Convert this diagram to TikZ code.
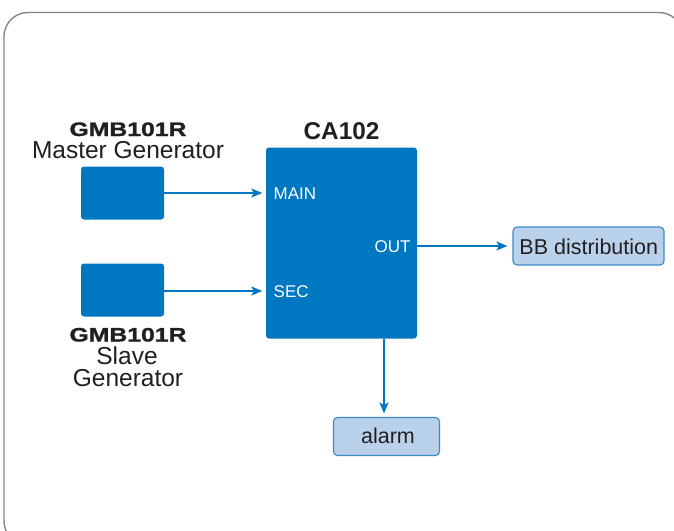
\documentclass[tikz,border=0pt]{standalone}
\usepackage{fontspec}
\setmainfont{Liberation Sans}
\newfontfamily\blackfont[FakeBold=1.2]{Liberation Sans Bold}
\usetikzlibrary{arrows.meta,calc}
\definecolor{cablue}{HTML}{0077C1}
\definecolor{lightfill}{HTML}{B9D1EA}
\definecolor{lightedge}{HTML}{3B8AC9}
\definecolor{txt}{HTML}{231F20}
\definecolor{framegray}{HTML}{858585}
\tikzset{
  genbox/.style={rectangle, rounded corners=3pt, fill=cablue, draw=none, minimum width=83pt, minimum height=53pt, inner sep=0pt},
  mainbox/.style={rectangle, rounded corners=3pt, fill=cablue, draw=none, minimum width=151pt, minimum height=191pt, inner sep=0pt},
  outbox/.style={rectangle, rounded corners=4pt, fill=lightfill, draw=lightedge, line width=1.1pt, inner sep=0pt, text=txt, font=\fontsize{21.5}{24}\selectfont},
  arr/.style={draw=cablue, line width=1.3pt, -{Stealth[length=11pt,width=9pt,inset=2.5pt]}},
  port/.style={text=white, font=\fontsize{17}{20}\selectfont, inner sep=0pt, anchor=base west},
  title/.style={text=txt, inner sep=0pt, anchor=base},
  heavy/.style={title, font=\blackfont\fontsize{19.5}{24}\selectfont},
  plain/.style={title, font=\fontsize{24.5}{28}\selectfont}
}
\begin{document}
\begin{tikzpicture}[x=1pt,y=-1pt]
\useasboundingbox (0,0) rectangle (674,530);
\draw[framegray, line width=1.4pt, rounded corners=24pt] (4,12.5) rectangle (683,545);

\node[genbox] (master) at (122.5,193) {};
\node[genbox] (slave) at (122.5,290) {};
\node[mainbox] (ca) at (341.5,243) {};
\node[outbox, minimum width=151pt, minimum height=38pt] (bb) at (588.5,246) {};
\node[outbox, minimum width=106pt, minimum height=38pt] (alarm) at (386.5,436.5) {};

\node[title, text=txt, font=\fontsize{21.5}{24}\selectfont] (bbt) at (588.8,254.3) {BB distribution};
\node[title, text=txt, font=\fontsize{21.5}{24}\selectfont] (alarmt) at (388,443) {alarm};

\node[heavy] (g1) at (128,136) {\scalebox{1.27}[1]{GMB101R}};
\node[plain] (m1) at (128,158.3) {Master Generator};
\node[title, font=\bfseries\fontsize{24.3}{28}\selectfont] (cat) at (341.5,139) {CA102};
\node[heavy] (g2) at (128,341.5) {\scalebox{1.27}[1]{GMB101R}};
\node[plain] (s2) at (127,364) {Slave};
\node[plain] (s3) at (128,386.5) {Generator};

\node[port] (mainl) at (273.5,199.5) {MAIN};
\node[port] (secl) at (273.5,297.8) {SEC};
\node[port, anchor=base east] (outl) at (410.7,252.3) {OUT};

\coordinate (ax) at (384,0);
\draw[arr, shorten >=3.5pt] (master.east) -- (ca.west |- master.east);
\draw[arr, shorten >=3.5pt] (slave.east |- 0,291) -- (ca.west |- 0,291);
\draw[arr, shorten >=5pt] (ca.east |- bb.west) -- (bb.west);
\draw[arr, shorten >=3.5pt] (ca.south -| ax) -- (alarm.north -| ax);
\end{tikzpicture}
\end{document}
